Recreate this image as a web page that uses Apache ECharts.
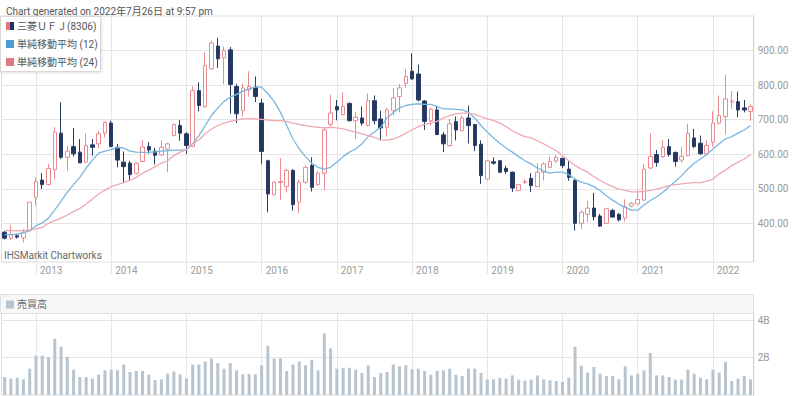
<!DOCTYPE html>
<html><head><meta charset="utf-8">
<script src="https://cdn.jsdelivr.net/npm/echarts@6/dist/echarts.min.js"></script>
<style>html,body{margin:0;padding:0;background:#fff}#c{width:800px;height:396px}</style>
</head><body><div id="c"></div>
<script>
// Monthly periods, Aug 2012 .. Jul 2022
const months = [
 '2012-08','2012-09','2012-10','2012-11','2012-12',
 '2013-01','2013-02','2013-03','2013-04','2013-05','2013-06','2013-07','2013-08','2013-09','2013-10','2013-11','2013-12',
 '2014-01','2014-02','2014-03','2014-04','2014-05','2014-06','2014-07','2014-08','2014-09','2014-10','2014-11','2014-12',
 '2015-01','2015-02','2015-03','2015-04','2015-05','2015-06','2015-07','2015-08','2015-09','2015-10','2015-11','2015-12',
 '2016-01','2016-02','2016-03','2016-04','2016-05','2016-06','2016-07','2016-08','2016-09','2016-10','2016-11','2016-12',
 '2017-01','2017-02','2017-03','2017-04','2017-05','2017-06','2017-07','2017-08','2017-09','2017-10','2017-11','2017-12',
 '2018-01','2018-02','2018-03','2018-04','2018-05','2018-06','2018-07','2018-08','2018-09','2018-10','2018-11','2018-12',
 '2019-01','2019-02','2019-03','2019-04','2019-05','2019-06','2019-07','2019-08','2019-09','2019-10','2019-11','2019-12',
 '2020-01','2020-02','2020-03','2020-04','2020-05','2020-06','2020-07','2020-08','2020-09','2020-10','2020-11','2020-12',
 '2021-01','2021-02','2021-03','2021-04','2021-05','2021-06','2021-07','2021-08','2021-09','2021-10','2021-11','2021-12',
 '2022-01','2022-02','2022-03','2022-04','2022-05','2022-06','2022-07'
];
const openPrices = [
 374,357,364,358,379,
 475,525,512,555,661,591,622,606,577,627,630,661,
 690,620,577,574,545,579,622,609,598,615,654,683,
 659,623,784,738,847,913,879,902,796,726,786,794,
 748,581,483,518,506,553,461,519,567,512,545,686,
 738,715,747,697,705,683,755,702,678,726,767,805,
 840,832,754,697,728,656,625,694,668,705,686,629,
 528,578,581,559,548,495,519,530,506,548,562,580,
 588,557,524,400,426,444,421,400,437,426,415,450,
 456,467,560,599,593,622,605,583,596,647,632,601,
 635,690,709,751,752,734,724
];
const closePrices = [
 357,367,360,374,461,
 521,512,559,664,591,609,601,575,625,620,659,692,
 622,583,564,541,574,621,612,597,620,630,686,661,
 625,784,741,857,922,876,900,802,717,792,796,767,
 608,485,519,521,553,454,519,562,504,545,670,719,
 728,738,697,707,690,755,697,676,728,763,792,825,
 818,757,695,730,657,630,688,670,705,683,625,538,
 581,574,548,550,502,512,521,509,548,572,579,591,
 567,533,400,432,444,419,392,442,418,410,448,458,
 469,557,593,576,620,599,579,593,660,622,601,625,
 690,712,760,754,728,728,738
];
const lowPrices = [
 353,352,356,345,376,
 451,499,509,528,586,553,593,574,574,596,618,649,
 620,562,519,524,541,577,601,570,596,548,651,639,
 601,620,724,734,844,850,803,717,690,709,767,751,
 571,432,480,468,489,437,429,514,492,509,495,680,
 698,712,695,644,683,680,686,641,651,712,721,792,
 815,753,670,683,655,606,622,640,666,631,609,514,
 525,570,545,543,491,493,514,490,505,524,560,574,
 560,523,379,384,403,408,389,398,416,405,405,446,
 454,466,557,564,589,593,564,576,593,618,599,599,
 622,686,657,731,707,721,697
];
const highPrices = [
 378,396,369,384,461,
 533,545,572,678,750,625,676,644,659,644,668,695,
 697,630,608,581,576,641,635,618,639,633,690,699,
 664,796,808,895,929,937,912,910,804,804,840,825,
 760,584,522,589,558,557,526,567,591,551,678,772,
 757,779,750,722,738,776,770,726,734,792,803,847,
 892,859,756,736,738,664,702,709,712,741,688,640,
 583,591,583,567,550,514,528,545,574,577,593,599,
 590,581,531,437,465,488,427,445,442,430,470,461,
 497,572,660,612,641,644,608,622,688,673,654,641,
 724,770,830,783,781,757,744
];
// Simple moving averages
const ma12 = [
 367,367,369,372,379,
 393,401,415,439,464,490,512,533,560,583,603,609,
 613,620,618,609,606,605,605,607,609,610,612,612,
 613,630,654,683,712,734,753,765,773,782,789,794,
 794,775,753,721,683,644,615,593,574,562,557,562,
 577,593,606,615,630,651,664,678,705,721,734,741,
 744,746,744,744,738,731,731,730,728,721,705,683,
 664,647,632,618,606,593,581,572,560,551,545,548,
 548,541,528,519,514,506,495,480,467,455,446,438,
 438,453,466,476,490,506,522,538,557,574,586,599,
 615,630,644,651,661,670,683
];
const ma24 = [
 379,379,379,379,381,
 384,388,400,408,415,424,434,443,456,470,485,496,
 506,512,518,524,533,545,554,564,574,581,596,606,
 613,630,641,659,673,683,690,695,699,702,703,702,
 701,699,697,697,695,690,686,683,680,678,676,678,
 676,673,668,664,659,654,649,641,641,644,651,661,
 670,680,686,690,695,705,712,717,719,719,715,708,
 703,697,690,680,668,659,651,647,639,630,620,610,
 596,581,567,557,548,535,524,514,506,499,495,491,
 491,492,495,499,504,509,512,514,516,518,518,522,
 528,543,554,567,577,586,599
];
// Monthly volume, billions of shares
const volume = [
 0.96,0.88,0.93,0.84,1.41,
 2.11,2.11,2.02,3.02,2.59,2.05,1.36,0.96,0.96,0.88,1.09,1.32,
 1.36,1.32,1.63,1.23,1.29,1.29,1.09,0.80,0.84,1.14,1.25,1.11,
 0.88,1.63,1.63,1.80,1.95,1.71,1.41,1.71,1.32,1.11,1.14,1.11,
 1.59,2.64,1.95,1.96,1.29,1.63,1.80,1.59,1.89,1.32,3.30,2.50,
 1.41,1.46,1.46,1.36,1.18,1.59,0.96,1.18,1.23,1.63,1.54,1.59,
 1.38,1.41,1.29,1.09,1.29,1.32,1.41,1.09,1.02,1.41,1.41,1.18,
 0.84,0.84,0.91,0.88,1.05,0.82,0.77,0.82,1.05,0.84,0.79,0.75,
 0.70,0.93,2.59,1.57,1.20,1.50,1.14,1.02,1.02,0.84,1.54,1.05,
 1.14,1.32,2.25,1.05,1.05,0.96,0.82,0.82,1.36,1.14,0.93,0.84,
 1.36,1.20,1.77,0.75,0.88,1.02,0.84
];
const priceTicks = [400, 500, 600, 700, 800, 900];
const volumeTicks = [2, 4];

const FONT = 'Roboto, "Noto Sans CJK JP", sans-serif';
const GRID_LINE = '#e5e5e5';
const LABEL = '#9a9a9a';
const isJan = (idx, val) => String(val).slice(5) === '01';
const candleData = months.map((m, i) => [openPrices[i], closePrices[i], lowPrices[i], highPrices[i]]);

const chart = echarts.init(document.getElementById('c'), null, {renderer: 'svg'});
chart.setOption({
  animation: false,
  backgroundColor: '#fff',
  textStyle: {fontFamily: FONT},
  title: {text: 'Chart generated on 2022年7月26日 at 9:57 pm', left: 1, top: 1,
    textStyle: {fontSize: 10, fontWeight: 'normal', color: '#555', fontFamily: FONT}},
  grid: [
    {left: 1.5, right: 46.3, top: 16, height: 246, show: true, borderColor: '#dcdcdc', borderWidth: 1},
    {left: 1.5, right: 46.3, top: 313.3, height: 81.7, show: true, borderColor: '#dcdcdc', borderWidth: 1}
  ],
  xAxis: [
    {type: 'category', gridIndex: 0, data: months, boundaryGap: true,
     axisLine: {show: false},
     axisTick: {show: true, interval: isJan, alignWithLabel: true, length: 12, lineStyle: {color: GRID_LINE}},
     axisLabel: {interval: isJan, formatter: v => v.slice(0, 4), align: 'left', padding: [0, 0, 0, 4],
       color: LABEL, fontSize: 10, margin: 3, fontFamily: FONT},
     splitLine: {show: true, interval: isJan, alignWithLabel: true, lineStyle: {color: GRID_LINE}}},
    {type: 'category', gridIndex: 1, data: months, boundaryGap: true,
     axisLine: {show: false}, axisTick: {show: false, interval: isJan, alignWithLabel: true},
     axisLabel: {show: false},
     splitLine: {show: true, interval: isJan, alignWithLabel: true, lineStyle: {color: GRID_LINE}}}
  ],
  yAxis: [
    {type: 'value', gridIndex: 0, position: 'right', min: 288, max: 1000,
     axisLine: {show: true, lineStyle: {color: '#cfcfcf'}},
     axisTick: {show: false, customValues: priceTicks},
     axisLabel: {customValues: priceTicks, formatter: v => v.toFixed(2), color: LABEL, fontSize: 10, margin: 4, fontFamily: FONT},
     splitLine: {show: true, lineStyle: {color: GRID_LINE}}},
    {type: 'value', gridIndex: 1, position: 'right', min: 0, max: 4.38,
     axisLine: {show: true, lineStyle: {color: '#cfcfcf'}},
     axisTick: {show: false, customValues: volumeTicks},
     axisLabel: {customValues: volumeTicks, formatter: v => v + 'B', color: LABEL, fontSize: 10, margin: 4, fontFamily: FONT},
     splitLine: {show: true, lineStyle: {color: GRID_LINE}}}
  ],
  series: [
    {name: '三菱ＵＦＪ(8306)', type: 'candlestick', xAxisIndex: 0, yAxisIndex: 0, data: candleData, barWidth: 4,
     itemStyle: {color: '#ffffff', color0: '#24375f', borderColor: '#ea8a92', borderColor0: '#2a3d66', borderWidth: 1}},
    {name: '単純移動平均 (12)', type: 'line', xAxisIndex: 0, yAxisIndex: 0, data: ma12, symbol: 'none',
     lineStyle: {color: '#78b7df', width: 1.3}, z: 3},
    {name: '単純移動平均 (24)', type: 'line', xAxisIndex: 0, yAxisIndex: 0, data: ma24, symbol: 'none',
     lineStyle: {color: '#eeaab2', width: 1.3}, z: 3},
    {name: '売買高', type: 'bar', xAxisIndex: 1, yAxisIndex: 1, data: volume, barWidth: 3,
     itemStyle: {color: '#b8c5ce'}}
  ],
  graphic: [
    {type: 'rect', z: 100, shape: {x: 0.5, y: 16.5, width: 100, height: 55},
     style: {fill: 'rgba(255,255,255,0.96)', stroke: '#d8d8d8', lineWidth: 1, shadowBlur: 3, shadowColor: 'rgba(0,0,0,0.12)', shadowOffsetX: 1, shadowOffsetY: 1}},
    {type: 'rect', z: 101, shape: {x: 6, y: 22, width: 4, height: 8}, style: {fill: '#e8747e'}},
    {type: 'rect', z: 101, shape: {x: 10, y: 22, width: 4, height: 8}, style: {fill: '#1f3262'}},
    {type: 'text', z: 101, x: 17, y: 26, style: {text: '三菱ＵＦＪ(8306)', fontSize: 10, fill: '#555', fontFamily: FONT, verticalAlign: 'middle'}},
    {type: 'rect', z: 101, shape: {x: 6, y: 40, width: 8, height: 8}, style: {fill: '#4a9ed2'}},
    {type: 'text', z: 101, x: 17, y: 44, style: {text: '単純移動平均 (12)', fontSize: 10, fill: '#555', fontFamily: FONT, verticalAlign: 'middle'}},
    {type: 'rect', z: 101, shape: {x: 6, y: 58, width: 8, height: 8}, style: {fill: '#e07888'}},
    {type: 'text', z: 101, x: 17, y: 62, style: {text: '単純移動平均 (24)', fontSize: 10, fill: '#555', fontFamily: FONT, verticalAlign: 'middle'}},
    {type: 'text', z: 101, x: 4, y: 255, style: {text: 'IHSMarkit Chartworks', fontSize: 10, fill: '#666', fontFamily: FONT, verticalAlign: 'middle'}},
    {type: 'rect', z: 100, shape: {x: 0.5, y: 294.5, width: 753, height: 19},
     style: {fill: '#f7f7f7', stroke: '#e0e0e0', lineWidth: 1}},
    {type: 'rect', z: 101, shape: {x: 6, y: 300.5, width: 8, height: 8}, style: {fill: '#b7c4cd'}},
    {type: 'text', z: 101, x: 17, y: 304.5, style: {text: '売買高', fontSize: 10, fill: '#666', fontFamily: FONT, verticalAlign: 'middle'}}
  ]
});
</script>
</body></html>
